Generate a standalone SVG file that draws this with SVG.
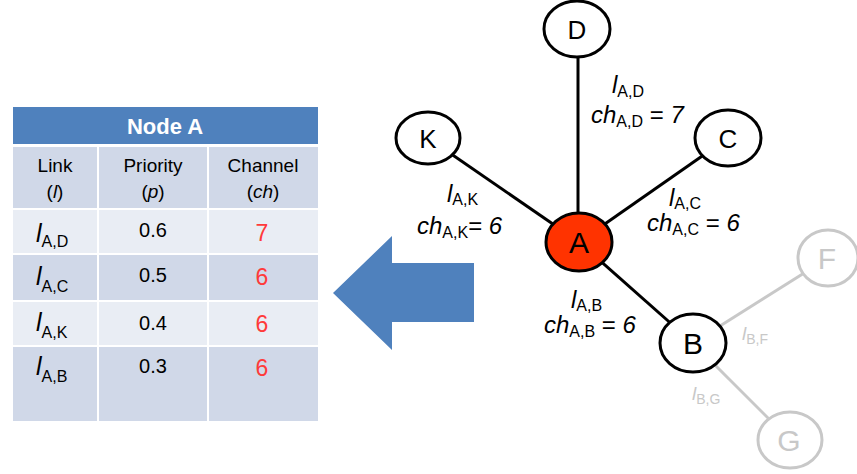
<svg xmlns="http://www.w3.org/2000/svg" width="857" height="474" viewBox="0 0 857 474">
<style>
text{font-family:"Liberation Sans",Arial,sans-serif}
.th{fill:#d0d8e8}
.tl{fill:#e9edf4}
.hd{font-size:19px;fill:#000;text-anchor:middle}
.num{font-size:20px;fill:#000;text-anchor:middle}
.red{font-size:23px;fill:#ff3a3a;text-anchor:middle}
.lk{font-size:25px;font-style:italic}
.sb{font-size:16px;font-style:normal}
.nd{fill:#fff;stroke:#000;stroke-width:3}
.ng{fill:#fff;stroke:#c8c8c8;stroke-width:3}
.nt{font-size:26px;text-anchor:middle;fill:#000}
.ntb{font-size:30px;text-anchor:middle;fill:#000}
.gt{font-size:30px;text-anchor:middle;fill:#c8c8c8}
.e{stroke:#000;stroke-width:3}
.eg{stroke:#c8c8c8;stroke-width:3}
.lb{font-size:24px;fill:#000}
.it{font-style:italic}
.gl{font-size:19px;fill:#c8c8c8}
.gs{font-size:14px}
</style>
<rect width="857" height="474" fill="#fff"/>
<g id="table">
<rect x="13" y="107" width="305" height="37" fill="#4f81bd"/>
<text x="165" y="134" font-size="22" font-weight="bold" fill="#fff" text-anchor="middle">Node A</text>
<rect class="th" x="13" y="147" width="84" height="61"/>
<rect class="th" x="99" y="147" width="108" height="61"/>
<rect class="th" x="209" y="147" width="109" height="61"/>
<rect class="tl" x="13" y="210" width="84" height="43"/>
<rect class="tl" x="99" y="210" width="108" height="43"/>
<rect class="tl" x="209" y="210" width="109" height="43"/>
<rect class="th" x="13" y="255" width="84" height="45"/>
<rect class="th" x="99" y="255" width="108" height="45"/>
<rect class="th" x="209" y="255" width="109" height="45"/>
<rect class="tl" x="13" y="302" width="84" height="43"/>
<rect class="tl" x="99" y="302" width="108" height="43"/>
<rect class="tl" x="209" y="302" width="109" height="43"/>
<rect class="th" x="13" y="347" width="84" height="74"/>
<rect class="th" x="99" y="347" width="108" height="74"/>
<rect class="th" x="209" y="347" width="109" height="74"/>
<text class="hd" x="55" y="172">Link</text>
<text class="hd" x="55" y="198">(<tspan font-style="italic">l</tspan>)</text>
<text class="hd" x="153" y="172">Priority</text>
<text class="hd" x="153" y="198">(<tspan font-style="italic">p</tspan>)</text>
<text class="hd" x="263" y="172">Channel</text>
<text class="hd" x="263" y="198">(<tspan font-style="italic">ch</tspan>)</text>
<text class="lk" x="36" y="242">l<tspan class="sb" dy="5">A,D</tspan></text>
<text class="lk" x="36" y="285">l<tspan class="sb" dy="7">A,C</tspan></text>
<text class="lk" x="36" y="331">l<tspan class="sb" dy="7">A,K</tspan></text>
<text class="lk" x="36" y="375">l<tspan class="sb" dy="7">A,B</tspan></text>
<text class="num" x="153" y="237">0.6</text>
<text class="num" x="153" y="282">0.5</text>
<text class="num" x="153" y="330">0.4</text>
<text class="num" x="153" y="373">0.3</text>
<text class="red" x="262" y="241">7</text>
<text class="red" x="262" y="285">6</text>
<text class="red" x="262" y="332">6</text>
<text class="red" x="262" y="376">6</text>
</g>
<g id="arrow">
<polygon points="333,293 392,236 392,263 474,263 474,322 392,322 392,350" fill="#4f81bd"/>
</g>
<g id="connectors">
<line class="e" x1="578" y1="29" x2="578" y2="242"/>
<line class="e" x1="428" y1="138" x2="579" y2="242"/>
<line class="e" x1="728" y1="138" x2="579" y2="242"/>
<line class="e" x1="579" y1="242" x2="693" y2="343"/>
<line class="eg" x1="693" y1="343" x2="828" y2="258"/>
<line class="eg" x1="693" y1="343" x2="790" y2="440"/>
</g>
<g id="labels">
<text class="lb it" x="612" y="93">l<tspan class="sb" dy="4">A,D</tspan></text>
<text class="lb it" x="591" y="123">ch<tspan class="sb" dy="4">A,D</tspan><tspan dy="-4" font-style="normal"> = </tspan>7</text>
<text class="lb it" x="447" y="202">l<tspan class="sb" dy="3">A,K</tspan></text>
<text class="lb it" x="417" y="234">ch<tspan class="sb" dy="4">A,K</tspan><tspan dy="-4" font-style="normal">= </tspan>6</text>
<text class="lb it" x="669" y="206">l<tspan class="sb" dy="3">A,C</tspan></text>
<text class="lb it" x="647" y="231">ch<tspan class="sb" dy="4">A,C</tspan><tspan dy="-4" font-style="normal"> = </tspan>6</text>
<text class="lb it" x="571" y="308">l<tspan class="sb" dy="3">A,B</tspan></text>
<text class="lb it" x="544" y="333">ch<tspan class="sb" dy="4">A,B</tspan><tspan dy="-4" font-style="normal"> = </tspan>6</text>
<text class="gl it" x="742" y="340">l<tspan class="gs" dy="4" font-style="normal">B,F</tspan></text>
<text class="gl it" x="692" y="400">l<tspan class="gs" dy="4" font-style="normal">B,G</tspan></text>
</g>
<g id="node-D"><ellipse class="nd" cx="577" cy="29" rx="33" ry="28"/><text class="nt" x="577" y="39">D</text></g>
<g id="node-K"><ellipse class="nd" cx="428" cy="138" rx="32" ry="26"/><text class="nt" x="428" y="148">K</text></g>
<g id="node-C"><ellipse class="nd" cx="728" cy="138" rx="33" ry="28"/><text class="nt" x="728" y="148">C</text></g>
<g id="node-A"><ellipse cx="579" cy="242" rx="33" ry="29" fill="#ff3300" stroke="#000" stroke-width="3"/><text class="ntb" x="579" y="253">A</text></g>
<g id="node-B"><ellipse class="nd" cx="693" cy="343" rx="33" ry="29" /><text class="ntb" x="693" y="354">B</text></g>
<g id="node-F"><ellipse class="ng" cx="828" cy="258" rx="30" ry="28"/><text class="gt" x="827" y="269">F</text></g>
<g id="node-G"><ellipse class="ng" cx="790" cy="440" rx="32" ry="28"/><text class="gt" x="789" y="451">G</text></g>
</svg>
